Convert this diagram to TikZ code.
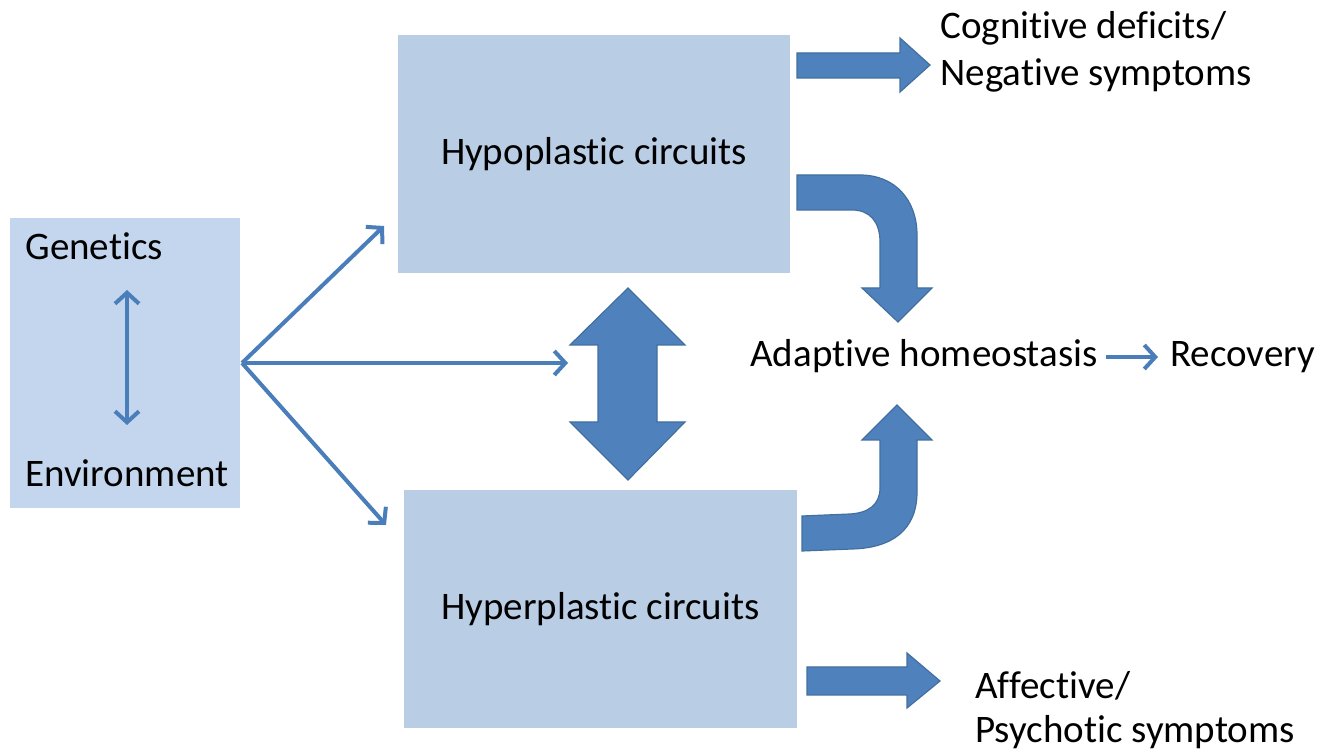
\documentclass[tikz,border=0pt]{standalone}
\usepackage{fontspec}
\setmainfont{Carlito}[Ligatures={NoCommon,NoContextual}, Contextuals=NoAlternate]
\usetikzlibrary{arrows.meta}
\definecolor{boxblue}{HTML}{B9CDE5}
\definecolor{lboxblue}{HTML}{C3D6EE}
\definecolor{lineblue}{HTML}{4A7EBB}
\definecolor{blockblue}{HTML}{4F81BD}
\definecolor{blockedge}{HTML}{41709F}
\begin{document}
\begin{tikzpicture}[x=0.5pt,y=-0.5pt,
  box/.style={fill=boxblue, draw=none, inner sep=0pt},
  lbl/.style={inner sep=0pt, font=\fontsize{19.5}{23}\selectfont},
  thinarrow/.style={draw=lineblue, line width=2pt, -{Straight Barb[length=5.5pt,width=12pt]}},
  thindouble/.style={draw=lineblue, line width=2pt, {Straight Barb[length=5.5pt,width=12pt]}-{Straight Barb[length=5.5pt,width=12pt]}},
  blockarrow/.style={fill=blockblue, draw=blockedge, line width=0.6pt, line join=miter}
]
\fill[white] (0,0) rectangle (1340,753);
\useasboundingbox (0,0) rectangle (1340,753);

% boxes
\node[box, fill=lboxblue, minimum width=115pt, minimum height=145pt] (left) at (125,363) {};
\node[box, lbl, minimum width=196pt, minimum height=119pt] (hypo) at (594,154) {Hypoplastic circuits};
\node[box, lbl, minimum width=196.5pt, minimum height=119pt] (hyper) at (600.5,609) {Hyperplastic circuits};

% texts
\node[lbl, anchor=base west] (gen) at (25,260) {Genetics};
\node[lbl, anchor=base west] (env) at (25,487) {Environment};
\node[lbl, anchor=base west] (adapt) at (750,367) {Adaptive homeostasis};
\node[lbl, anchor=base west] (rec) at (1170,367) {Recovery};
\node[lbl, anchor=base west] (cog) at (940,39) {Cognitive deficits/};
\node[lbl, anchor=base west] (neg) at (940,86) {Negative symptoms};
\node[lbl, anchor=base west] (aff) at (975,698) {Affective/};
\node[lbl, anchor=base west] (psy) at (975,742) {Psychotic symptoms};

% coordinates
\coordinate (fan) at (242,363);
\coordinate (tipup) at (384,226);
\coordinate (tipmid) at (568,363);
\coordinate (tipdown) at (386,525);
\coordinate (ge1) at (127,290);
\coordinate (ge2) at (127,425);
\coordinate (rs) at (1106,357);
\coordinate (re) at (1158,357);

% thin arrows
\draw[thindouble] (ge1) -- (ge2);
\draw[thinarrow] (fan) -- (tipup);
\draw[thinarrow] (fan) -- (tipmid);
\draw[thinarrow] (fan) -- (tipdown);
\draw[thinarrow] (rs) -- (re);

% big double arrow
\path[blockarrow] (628,288) -- (685,345) -- (657,345) -- (657,422) -- (685,422)
  -- (628,480) -- (570,422) -- (598,422) -- (598,345) -- (570,345) -- cycle;

% straight block arrows
\path[blockarrow] (797,53) -- (900,53) -- (900,38) -- (930,65) -- (900,92)
  -- (900,78) -- (797,78) -- cycle;
\path[blockarrow] (807,667) -- (907,667) -- (907,653) -- (940,681) -- (907,708)
  -- (907,695) -- (807,695) -- cycle;

% curved arrow down
\path[blockarrow] (797,175) -- (860,175) .. controls (895,175) and (917,200) .. (917,235)
  -- (917,288) -- (932,288) -- (898,322) -- (862,288) -- (880,288) -- (880,242)
  .. controls (880,222) and (870,210) .. (852,210) -- (797,210) -- cycle;

% curved arrow up
\path[blockarrow] (897,405) -- (932,440) -- (917,440) -- (917,492)
  .. controls (917,530) and (892,548) .. (852,549) -- (802,551) -- (802,516)
  -- (850,514) .. controls (868,513) and (880,505) .. (880,488) -- (880,440)
  -- (862,440) -- cycle;
\end{tikzpicture}
\end{document}
